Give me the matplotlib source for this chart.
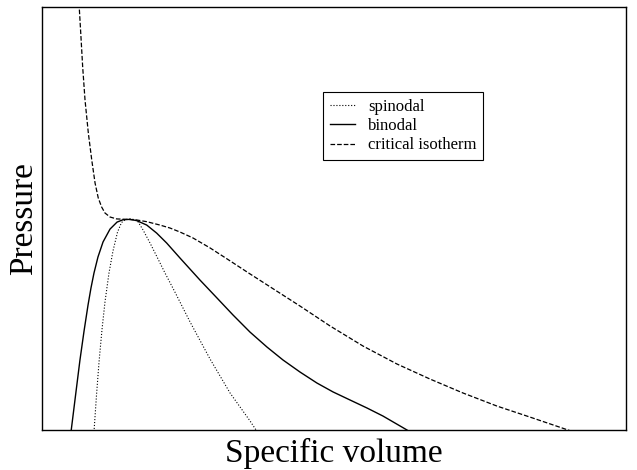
import numpy as np
import matplotlib
matplotlib.use('Agg')
import matplotlib.pyplot as plt

plt.rcParams['font.family'] = ['Liberation Serif', 'DejaVu Serif']

# critical isotherm (specific volume, pressure)
iso_v = [0.380, 0.398, 0.418, 0.442, 0.476, 0.511, 0.545, 0.578, 0.613, 0.647,
	0.699, 0.767, 0.870, 0.973, 1.076, 1.212, 1.315, 1.418, 1.551, 1.726,
	1.901, 2.137, 2.394, 2.651, 2.959, 3.298, 3.647, 3.986, 4.325, 4.675,
	5.014, 5.404, 5.527]
iso_p = [2.019, 1.877, 1.716, 1.560, 1.404, 1.277, 1.168, 1.097, 1.054, 1.026,
	1.007, 0.998, 0.996, 0.993, 0.985, 0.969, 0.955, 0.936, 0.908, 0.861,
	0.809, 0.738, 0.662, 0.586, 0.492, 0.397, 0.312, 0.241, 0.175, 0.113,
	0.061, 0.0, -0.019]

# binodal
bin_v = [0.298, 0.349, 0.390, 0.432, 0.473, 0.503, 0.534, 0.575, 0.627, 0.699,
	0.771, 0.832, 0.904, 0.973, 1.076, 1.178, 1.281, 1.418, 1.623, 1.798,
	1.962, 2.137, 2.312, 2.476, 2.651, 2.825, 2.990, 3.164, 3.339, 3.503,
	3.750, 3.791]
bin_p = [-0.009, 0.180, 0.331, 0.468, 0.591, 0.671, 0.742, 0.818, 0.889, 0.950,
	0.983, 0.994, 0.996, 0.990, 0.969, 0.931, 0.884, 0.813, 0.709, 0.624,
	0.544, 0.463, 0.392, 0.331, 0.274, 0.222, 0.180, 0.142, 0.104, 0.066,
	0.0, -0.014]

# spinodal
spin_v = [0.534, 0.560, 0.586, 0.616, 0.647, 0.688, 0.729, 0.776, 0.817, 0.858,
	0.904, 0.950, 0.986, 1.038, 1.110, 1.182, 1.264, 1.366, 1.521, 1.726,
	1.932, 2.137, 2.219]
spin_p = [-0.009, 0.165, 0.322, 0.473, 0.605, 0.742, 0.846, 0.936, 0.981, 0.995,
	0.998, 0.995, 0.985, 0.946, 0.884, 0.818, 0.742, 0.652, 0.511, 0.336,
	0.175, 0.043, -0.014]

fig = plt.figure(figsize=(6.37, 4.70), dpi=100)
ax = fig.add_axes([42/637, 40/470, 584/637, 423/470])

ax.plot(spin_v, spin_p, color='black', linestyle=':', linewidth=0.8, label='spinodal')
ax.plot(bin_v, bin_p, color='black', linestyle='-', linewidth=1.0, label='binodal')
ax.plot(iso_v, iso_p, color='black', linestyle='--', linewidth=0.9, label='critical isotherm')

ax.set_xlim(0, 6)
ax.set_ylim(0, 2)
ax.set_xticks([])
ax.set_yticks([])
for s in ax.spines.values():
	s.set_linewidth(1.0)
	s.set_color('black')

ax.set_xlabel('Specific volume', fontsize=24, labelpad=6)
ax.set_ylabel('Pressure', fontsize=24, labelpad=2)

leg = ax.legend(loc='upper left', bbox_to_anchor=(0.481, 0.799), borderaxespad=0,
	fontsize=12, handlelength=1.5, labelspacing=0.2, fancybox=False,
	framealpha=1, edgecolor='black')
leg.get_frame().set_linewidth(0.8)

fig.savefig('out.png', dpi=100)
